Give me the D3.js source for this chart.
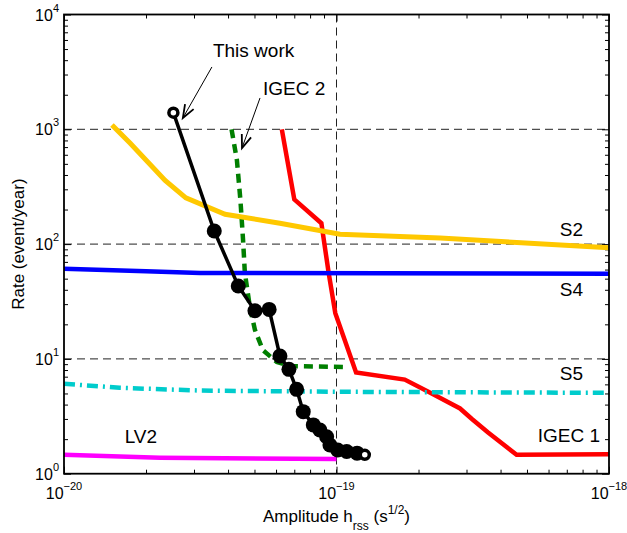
<!DOCTYPE html>
<html>
<head>
<meta charset="utf-8">
<script src="https://cdn.jsdelivr.net/npm/d3@7"></script>
<style>
  body { margin: 0; background: #fff; }
  text { font-family: Arial, "Liberation Sans", Helvetica, sans-serif; fill: #000; }
</style>
</head>
<body>
<svg id="chart" width="627" height="533"></svg>
<script>
// ---- data: [amplitude h_rss, rate (event/year)] ----
var thisWork = [[2.52e-20,1396],[3.56e-20,130],[4.36e-20,43.2],[5.02e-20,26.3],[5.66e-20,27.0],
                [6.2e-20,10.6],[6.69e-20,8.11],[7.14e-20,5.43],[7.55e-20,3.47],[8.22e-20,2.66],
                [8.69e-20,2.40],[9.2e-20,2.10],[9.46e-20,1.78],[1.01e-19,1.61],[1.09e-19,1.56],
                [1.19e-19,1.51],[1.27e-19,1.46]];
var igec2 = [[4.12e-20,1000],[4.31e-20,540],[4.44e-20,242],[4.54e-20,109],[4.61e-20,56],
             [4.81e-20,28.3],[5.02e-20,17.9],[5.37e-20,11.9],[6.04e-20,9.4],[6.75e-20,8.67],[1.09e-19,8.5]];
var igec1 = [[6.3e-20,1000],[7.0e-20,245],[8.8e-20,152],[9.35e-20,57],[9.9e-20,25],[1.18e-19,7.6],
             [1.78e-19,6.6],[2.2e-19,5.1],[2.84e-19,3.7],[3.14e-19,3.0],[3.59e-19,2.3],[4.58e-19,1.46],[1e-18,1.48]];
var s2 = [[1.5e-20,1090],[1.75e-20,755],[2.35e-20,359],[2.8e-20,253],[3.9e-20,182],[6.2e-20,152],
          [1.03e-19,122],[2.4e-19,113],[1e-18,93]];
var s4 = [[1e-20,61],[2e-20,58],[3.16e-20,56],[1e-18,55.3]];
var s5 = [[1e-20,6.08],[1.6e-20,5.6],[3.16e-20,5.3],[1e-19,5.17],[1e-18,5.06]];
var lv2 = [[1e-20,1.46],[2.25e-20,1.38],[1e-19,1.34]];

var xTicks = [1e-20, 1e-19, 1e-18], xTickExp = ["\u221220", "\u221219", "\u221218"];
var yTicks = [1, 10, 100, 1000, 10000], yTickExp = ["0", "1", "2", "3", "4"];
var gridX = [1e-19], gridY = [10, 100, 1000];

// label text placed at data coordinates [h, rate]
var labels = [["S2", 6.6e-19, 118], ["S4", 6.6e-19, 35.5], ["S5", 6.6e-19, 6.55],
              ["IGEC 1", 5.48e-19, 1.9], ["LV2", 1.67e-20, 1.85],
              ["This work", 3.52e-20, 4280], ["IGEC 2", 5.37e-20, 1990]];
var arrows = [[[3.49e-20,3490],[2.73e-20,1253]], [[5.24e-20,1875],[4.5e-20,687]]];

var margin = {left: 64, top: 14.5, right: 18, bottom: 59.3};
var width = 627 - margin.left - margin.right, height = 533 - margin.top - margin.bottom;

var svg = d3.select("#chart");
var chart = svg.append("g").attr("transform", `translate(${margin.left},${margin.top})`);

var x = d3.scaleLog().domain([1e-20, 1e-18]).range([0, width]);
var y = d3.scaleLog().domain([1, 1e4]).range([height, 0]);

// minor tick values
var xMinor = [], yMinor = [];
[1e-20, 1e-19].forEach(d => { for (var k = 2; k < 10; k++) xMinor.push(d * k); });
[1, 10, 100, 1000].forEach(d => { for (var k = 2; k < 10; k++) yMinor.push(d * k); });

// dashed grid
chart.append("g").selectAll("line").data(gridY).enter().append("line")
  .attr("x1", 0).attr("x2", width).attr("y1", d => y(d)).attr("y2", d => y(d))
  .attr("stroke", "#222").attr("stroke-width", 1).attr("stroke-dasharray", "8,5");
chart.append("g").selectAll("line").data(gridX).enter().append("line")
  .attr("y1", 0).attr("y2", height).attr("x1", d => x(d)).attr("x2", d => x(d))
  .attr("stroke", "#222").attr("stroke-width", 1).attr("stroke-dasharray", "8,5");

// ticks on all four sides, pointing in
function ticks(axis, vals, len, tr) {
  var g = chart.append("g").attr("transform", tr)
    .call(axis.tickValues(vals).tickSize(len).tickFormat(""));
  g.select(".domain").remove();
  g.selectAll(".tick line").attr("stroke", "#000").attr("stroke-width", 1);
}
ticks(d3.axisBottom(x), xTicks, -7, `translate(0,${height})`);
ticks(d3.axisBottom(x), xMinor, -4, `translate(0,${height})`);
ticks(d3.axisTop(x), xTicks, -7, "translate(0,0)");
ticks(d3.axisTop(x), xMinor, -4, "translate(0,0)");
ticks(d3.axisLeft(y), yTicks, -7, "translate(0,0)");
ticks(d3.axisLeft(y), yMinor, -4, "translate(0,0)");
ticks(d3.axisRight(y), yTicks, -7, `translate(${width},0)`);
ticks(d3.axisRight(y), yMinor, -4, `translate(${width},0)`);

var line = d3.line().x(d => x(d[0])).y(d => y(d[1]));

// curves
chart.append("path").datum(igec1).attr("d", line)
  .attr("fill", "none").attr("stroke", "#ff0000").attr("stroke-width", 4.5);
chart.append("path").datum(igec2).attr("d", line)
  .attr("fill", "none").attr("stroke", "#007f00").attr("stroke-width", 4.5).attr("stroke-dasharray", "9,6");
chart.append("path").datum(s5).attr("d", line)
  .attr("fill", "none").attr("stroke", "#00cccc").attr("stroke-width", 4.5).attr("stroke-dasharray", "11,5,2,5");
chart.append("path").datum(lv2).attr("d", line)
  .attr("fill", "none").attr("stroke", "#ff00ff").attr("stroke-width", 4.5);
chart.append("path").datum(s2).attr("d", line)
  .attr("fill", "none").attr("stroke", "#ffc800").attr("stroke-width", 5);
chart.append("path").datum(s4).attr("d", line)
  .attr("fill", "none").attr("stroke", "#0000ff").attr("stroke-width", 4.5);

// this work: line + markers
chart.append("path").datum(thisWork).attr("d", line)
  .attr("fill", "none").attr("stroke", "#000").attr("stroke-width", 3.5);
var n = thisWork.length;
chart.append("g").selectAll("circle").data(thisWork).enter().append("circle")
  .attr("cx", d => x(d[0])).attr("cy", d => y(d[1]))
  .attr("r", (d, i) => (i === 0 || i === n - 1) ? 4.5 : 7.5)
  .attr("fill", (d, i) => (i === 0 || i === n - 1) ? "#fff" : "#000")
  .attr("stroke", "#000")
  .attr("stroke-width", (d, i) => (i === 0 || i === n - 1) ? 3.5 : 0);

// frame
chart.append("rect").attr("width", width).attr("height", height)
  .attr("fill", "none").attr("stroke", "#000").attr("stroke-width", 1.8);

// annotations
chart.append("g").selectAll("text").data(labels).enter().append("text")
  .attr("x", d => x(d[1])).attr("y", d => y(d[2]))
  .attr("font-size", 19).text(d => d[0]);

arrows.forEach(a => {
  var x0 = x(a[0][0]), y0 = y(a[0][1]), x1 = x(a[1][0]), y1 = y(a[1][1]);
  var ang = Math.atan2(y1 - y0, x1 - x0), L = 14, w = 0.36;
  chart.append("line").attr("x1", x0).attr("y1", y0).attr("x2", x1).attr("y2", y1)
    .attr("stroke", "#000").attr("stroke-width", 1);
  chart.append("path")
    .attr("d", `M${x1 - L * Math.cos(ang - w)},${y1 - L * Math.sin(ang - w)}L${x1},${y1}L${x1 - L * Math.cos(ang + w)},${y1 - L * Math.sin(ang + w)}`)
    .attr("fill", "none").attr("stroke", "#000").attr("stroke-width", 1.8);
});

// tick labels
var xl = chart.append("g").selectAll("text").data(xTicks).enter().append("text")
  .attr("x", d => x(d)).attr("y", height + 25).attr("text-anchor", "middle").attr("font-size", 16);
xl.append("tspan").text("10");
xl.append("tspan").attr("dy", -9).attr("font-size", 11).text((d, i) => xTickExp[i]);

var yl = chart.append("g").selectAll("text").data(yTicks).enter().append("text")
  .attr("x", -5).attr("y", d => y(d) + 6).attr("text-anchor", "end").attr("font-size", 16);
yl.append("tspan").text("10");
yl.append("tspan").attr("dy", -9).attr("font-size", 11).text((d, i) => yTickExp[i]);

// axis titles
var xt = svg.append("text").attr("x", margin.left + width / 2).attr("y", 522)
  .attr("text-anchor", "middle").attr("font-size", 17);
xt.append("tspan").text("Amplitude h");
xt.append("tspan").attr("dy", 8).attr("font-size", 12).text("rss");
xt.append("tspan").attr("dy", -8).text(" (s");
xt.append("tspan").attr("dy", -8).attr("font-size", 12).text("1/2");
xt.append("tspan").attr("dy", 8).text(")");

svg.append("text").attr("transform", `translate(24,${margin.top + height / 2}) rotate(-90)`)
  .attr("text-anchor", "middle").attr("font-size", 17).text("Rate (event/year)");
</script>
</body>
</html>
